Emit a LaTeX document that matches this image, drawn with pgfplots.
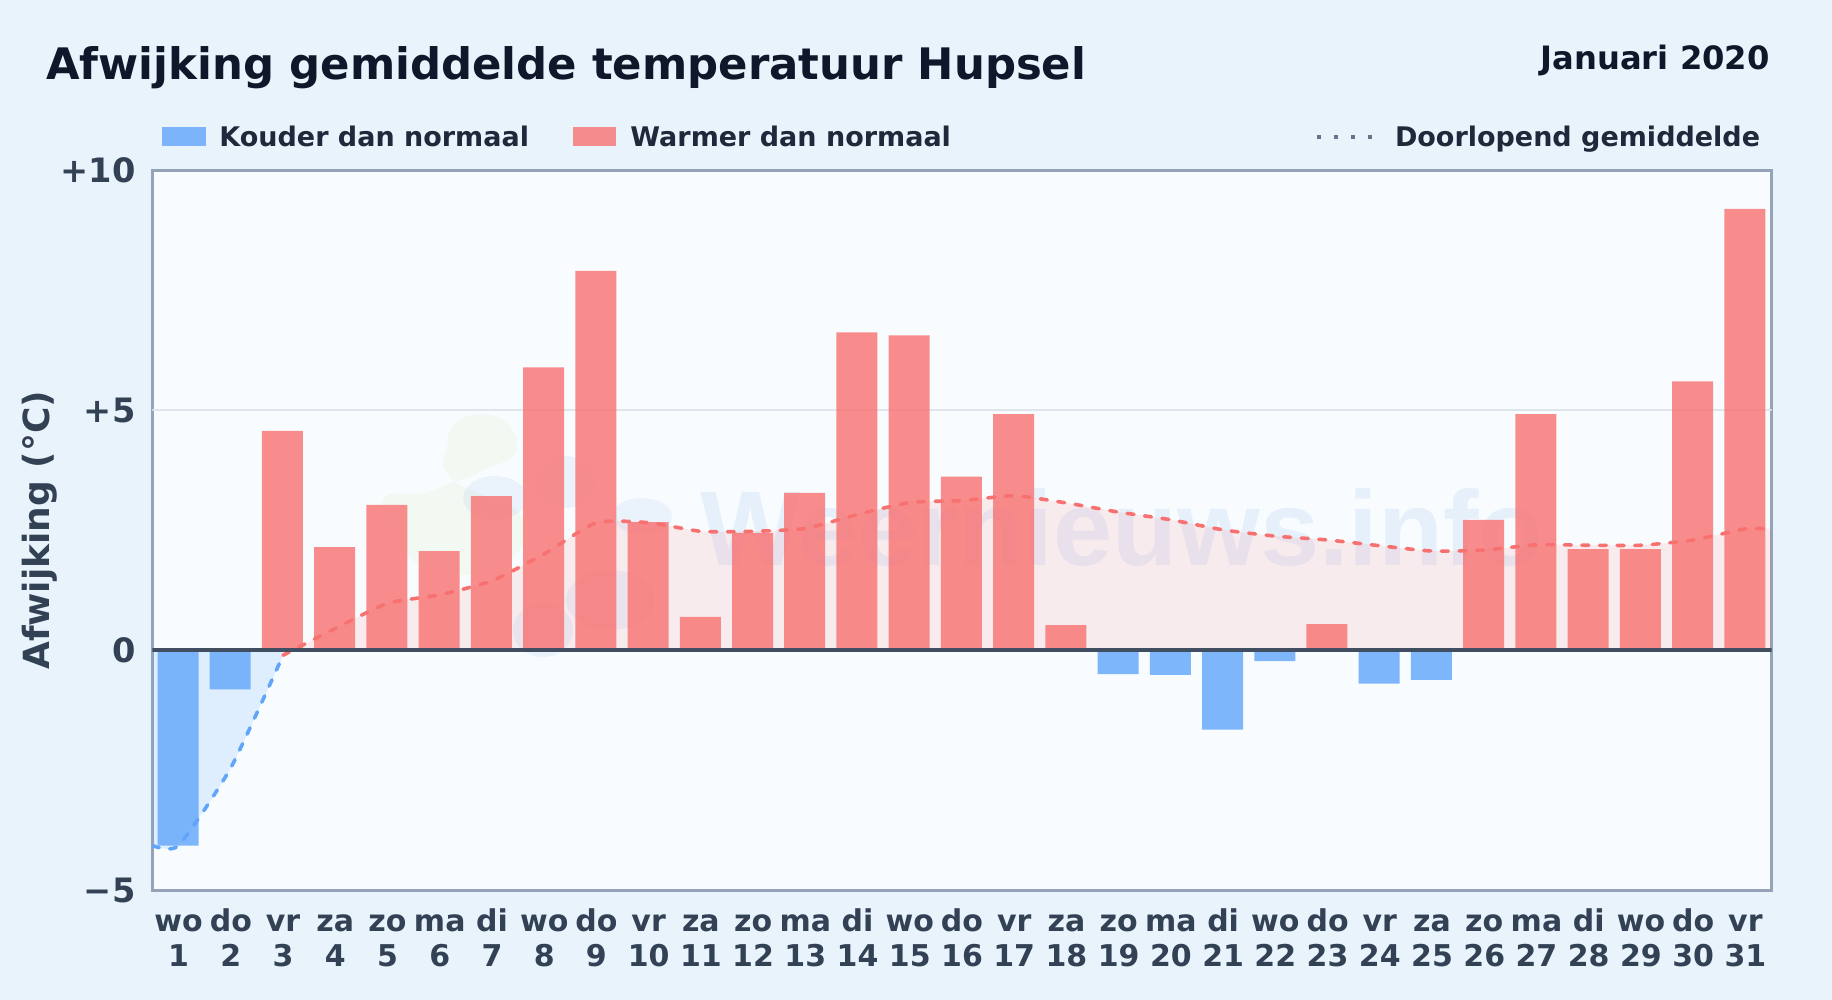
\documentclass[border=0pt]{standalone}
\usepackage{pgfplots}
\usepackage{pgfplotstable}
\usepackage{fontspec}
\setmainfont{DejaVu Sans}
\newfontfamily\markfont{Liberation Sans}
\pgfplotsset{compat=1.18}
\definecolor{pagebg}{HTML}{E8F3FC}
\definecolor{plotbg}{HTML}{F8FCFF}
\definecolor{coldbar}{HTML}{60A5FA}
\definecolor{warmbar}{HTML}{F87171}
\definecolor{titlecol}{HTML}{0F172A}
\definecolor{legcol}{HTML}{1E293B}
\definecolor{labcol}{HTML}{334155}
\definecolor{framecol}{HTML}{94A3B8}
\definecolor{zerocol}{HTML}{414E61}
\definecolor{dotcol}{HTML}{64748B}
\definecolor{gridcol}{HTML}{DFE5EC}
\definecolor{markblue}{HTML}{4A90D9}
\definecolor{markgreen}{HTML}{C4E08A}

% daily deviation: day, value
\pgfplotstableread{
day y
1 -4.06
2 -0.81
19 -0.49
20 -0.51
21 -1.65
22 -0.22
24 -0.69
25 -0.61
}\coldtable
\pgfplotstableread{
day y
3 4.57
4 2.15
5 3.03
6 2.07
7 3.21
8 5.89
9 7.90
10 2.67
11 0.70
12 2.45
13 3.28
14 6.62
15 6.56
16 3.62
17 4.92
18 0.53
23 0.55
26 2.72
27 4.92
28 2.11
29 2.11
30 5.60
31 9.19
}\warmtable
% running mean, split where it crosses zero
\pgfplotstableread{
day y
0.5 -4.06
1 -4.06
2 -2.44
3 -0.10
}\coldmean
\pgfplotstableread{
day y
3 -0.10
4 0.46
5 0.98
6 1.16
7 1.45
8 2.01
9 2.66
10 2.66
11 2.48
12 2.48
13 2.54
14 2.83
15 3.08
16 3.12
17 3.22
18 3.07
19 2.88
20 2.72
21 2.51
22 2.38
23 2.30
24 2.18
25 2.07
26 2.09
27 2.20
28 2.19
29 2.19
30 2.30
31 2.53
31.5 2.53
}\warmmean

\begin{document}
\begin{tikzpicture}[x=0.5pt,y=-0.5pt,font=\bfseries]
  \fill[pagebg] (0,0) rectangle (1832,1000);
  \fill[plotbg] (152.5,170) rectangle (1771.5,890.7);
  \coordinate (axiscorner) at (152.5,890.7);

  % watermark behind the bars
  \begin{scope}[opacity=0.10]
    \fill[markgreen] (482,414) to[out=0,in=90] (517,445) to[out=-90,in=30] (480,472)
       to[out=210,in=30] (435,490) to[out=210,in=90] (382,505) to[out=-90,in=180] (460,575)
       to[out=0,in=-90] (525,530) to[out=90,in=-60] (445,470) to[out=120,in=-90] (448,440)
       to[out=90,in=180] cycle;
  \end{scope}
  \begin{scope}[opacity=0.08]
    \fill[markblue] (495,498) ellipse[x radius=32,y radius=22];
    \fill[markblue] (565,482) ellipse[x radius=30,y radius=26];
    \fill[markblue] (642,516) ellipse[x radius=30,y radius=18];
    \fill[markblue] (610,600) ellipse[x radius=44,y radius=30];
    \fill[markblue] (543,630) ellipse[x radius=30,y radius=27];
  \end{scope}
  \node[opacity=0.10,font=\markfont\bfseries\fontsize{53.2}{55}\selectfont,text=markblue,anchor=base west,inner sep=0pt] at (700,565) {Weernieuws.info};

  \begin{axis}[
    at={(axiscorner)},anchor=south west,
    scale only axis,
    width=809.5pt,height=360.35pt,
    xmin=0.5,xmax=31.5,ymin=-5,ymax=10,
    axis line style={framecol,line width=1.5pt},
    tick style={draw=none},
    xtick={1,...,31},
    xticklabels={wo\\1,do\\2,vr\\3,za\\4,zo\\5,ma\\6,di\\7,wo\\8,do\\9,vr\\10,za\\11,zo\\12,ma\\13,di\\14,wo\\15,do\\16,vr\\17,za\\18,zo\\19,ma\\20,di\\21,wo\\22,do\\23,vr\\24,za\\25,zo\\26,ma\\27,di\\28,wo\\29,do\\30,vr\\31},
    xticklabel style={align=center,font=\bfseries\fontsize{15}{17.3}\selectfont,text=labcol,inner sep=0pt,yshift=-25.2pt,anchor=north,text height=8pt,text depth=0pt},
    ytick={-5,0,5,10},
    yticklabels={−5,0,+5,+10},
    yticklabel style={font=\bfseries\fontsize{16.8}{16.8}\selectfont,text=labcol,inner sep=0pt,xshift=-8.3pt},
    ylabel={Afwijking (°C)},
    ylabel style={font=\bfseries\fontsize{18}{18}\selectfont,text=labcol,at={(axis description cs:0,0.5)},anchor=south,yshift=44pt},
    clip=true,
    ybar,bar shift=-0.3pt,bar width=20.5pt,
  ]
    % grid line at +5 and area of the running mean
    \addplot[sharp plot,draw=gridcol,line width=0.8pt,forget plot] coordinates {(0.5,5) (31.5,5)};
    \addplot[smooth,tension=0.35,draw=none,fill=coldbar,fill opacity=0.16,forget plot] table[x=day,y=y]{\coldmean} \closedcycle;
    \addplot[smooth,tension=0.35,draw=none,fill=warmbar,fill opacity=0.12,forget plot] table[x=day,y=y]{\warmmean} \closedcycle;
    % bars
    \addplot[ybar,draw=none,fill=coldbar,fill opacity=0.8] table[x=day,y=y]{\coldtable};
    \addplot[ybar,draw=none,fill=warmbar,fill opacity=0.8] table[x=day,y=y]{\warmtable};
    % running mean
    \addplot[smooth,tension=0.35,draw=coldbar,line width=1.8pt,line cap=round,dash pattern=on 3.5pt off 5.3pt] table[x=day,y=y]{\coldmean};
    \addplot[smooth,tension=0.35,draw=warmbar,line width=1.8pt,line cap=round,dash pattern=on 3.5pt off 5.3pt] table[x=day,y=y]{\warmmean};
    % zero line
    \addplot[sharp plot,draw=zerocol,line width=2pt,forget plot] coordinates {(0.5,0) (31.5,0)};
  \end{axis}

  % title
  \node[anchor=base west,font=\bfseries\fontsize{21.7}{21.7}\selectfont,text=titlecol,inner sep=0pt] at (46,80) {Afwijking gemiddelde temperatuur Hupsel};
  \node[anchor=base east,font=\bfseries\fontsize{16.1}{16.1}\selectfont,text=titlecol,inner sep=0pt] at (1770,70) {Januari 2020};
  % legend
  \fill[coldbar,opacity=0.8] (162,127) rectangle (206,146);
  \node[anchor=base west,font=\bfseries\fontsize{13.5}{13.5}\selectfont,text=legcol,inner sep=0pt] at (219,147) {Kouder dan normaal};
  \fill[warmbar,opacity=0.8] (573,127) rectangle (616,146);
  \node[anchor=base west,font=\bfseries\fontsize{13.5}{13.5}\selectfont,text=legcol,inner sep=0pt] at (630,147) {Warmer dan normaal};
  \draw[dotcol,line width=2pt,dash pattern=on 2pt off 6.5pt] (1317,137) -- (1374,137);
  \node[anchor=base east,font=\bfseries\fontsize{13.5}{13.5}\selectfont,text=legcol,inner sep=0pt] at (1760.5,147) {Doorlopend gemiddelde};
\end{tikzpicture}
\end{document}
